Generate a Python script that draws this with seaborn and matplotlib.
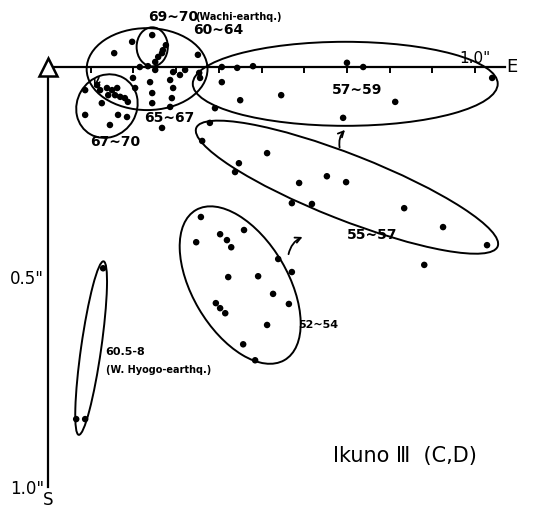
import numpy as np
import pandas as pd
import seaborn as sns
import matplotlib.pyplot as plt
from matplotlib.patches import Ellipse

# Displacement of the station per period, E (east) and S (south) in seconds of arc
e_69_70 = [0.244, 0.276, 0.269, 0.267, 0.258, 0.251]
s_69_70 = [-0.076, -0.052, -0.040, -0.033, -0.024, -0.012]

e_60_64 = [0.197, 0.155, 0.351, 0.215, 0.234, 0.251, 0.293, 0.309, 0.321, 0.354, 0.356]
s_60_64 = [-0.060, -0.033, -0.029, 0.000, -0.002, 0.007, 0.012, 0.019, 0.007, 0.014, 0.026]

e_65_67 = [0.286, 0.239, 0.199, 0.204, 0.244, 0.293, 0.244, 0.290, 0.286, 0.267]
s_65_67 = [0.031, 0.036, 0.026, 0.050, 0.062, 0.050, 0.086, 0.074, 0.095, 0.145]

e_67_70 = [0.087, 0.115, 0.122, 0.138, 0.150, 0.162, 0.141, 0.157, 0.169, 0.180,
           0.187, 0.126, 0.087, 0.164, 0.185, 0.145]
s_67_70 = [0.055, 0.043, 0.055, 0.050, 0.055, 0.050, 0.067, 0.067, 0.071, 0.074,
           0.083, 0.086, 0.114, 0.114, 0.119, 0.138]

e_57_59 = [0.407, 0.443, 0.480, 0.700, 0.738, 1.040, 0.546, 0.813, 0.691, 0.407, 0.450, 0.391]
s_57_59 = [0.000, 0.002, -0.002, -0.010, 0.000, 0.026, 0.067, 0.083, 0.121, 0.036, 0.079, 0.098]

e_55_57 = [0.379, 0.361, 0.513, 0.447, 0.438, 0.588, 0.653, 0.698, 0.571, 0.618,
           0.834, 0.925, 1.028, 0.881]
s_55_57 = [0.133, 0.176, 0.205, 0.229, 0.250, 0.276, 0.260, 0.274, 0.324, 0.326,
           0.336, 0.381, 0.424, 0.471]

e_52_54 = [0.358, 0.347, 0.403, 0.419, 0.429, 0.459, 0.539, 0.571, 0.422, 0.492,
           0.527, 0.564, 0.393, 0.403, 0.415, 0.513, 0.457, 0.485]
s_52_54 = [0.357, 0.417, 0.398, 0.412, 0.429, 0.388, 0.457, 0.488, 0.500, 0.498,
           0.540, 0.564, 0.562, 0.574, 0.586, 0.614, 0.660, 0.698]

e_605_8 = [0.129, 0.066, 0.087]
s_605_8 = [0.479, 0.838, 0.838]

x_ticks = [0.1, 0.2, 0.3, 0.4, 0.5, 0.6, 0.7, 0.8, 0.9, 1.0]
x_ticklabels = ['', '', '', '', '', '', '', '', '', '1.0"']
y_ticks = [0.1, 0.2, 0.3, 0.4, 0.5, 0.6, 0.7, 0.8, 0.9, 1.0]
y_ticklabels = ['', '', '', '', '0.5"', '', '', '', '', '1.0"']

groups = {
    "69~70": (e_69_70, s_69_70),
    "60~64": (e_60_64, s_60_64),
    "65~67": (e_65_67, s_65_67),
    "67~70": (e_67_70, s_67_70),
    "57~59": (e_57_59, s_57_59),
    "55~57": (e_55_57, s_55_57),
    "52~54": (e_52_54, s_52_54),
    "60.5-8": (e_605_8, s_605_8),
}
df = pd.concat([pd.DataFrame({"E": e, "S": s, "period": k}) for k, (e, s) in groups.items()],
               ignore_index=True)

sns.set_style("white")
plt.rcParams['font.family'] = ['DejaVu Sans']
plt.rcParams['text.color'] = 'black'
plt.rcParams['xtick.color'] = 'black'
plt.rcParams['ytick.color'] = 'black'

fig = plt.figure(figsize=(5.4, 5.09), dpi=100)
ax = fig.add_axes([0, 0, 1, 1])

sns.scatterplot(data=df, x="E", y="S", color="black", s=22, edgecolor="none",
                legend=False, ax=ax, zorder=3)

ax.set_xlim(-0.1124, 1.152)
ax.set_ylim(1.052, -0.1595)
ax.set_xlabel('')
ax.set_ylabel('')

# axes through the origin, E to the right, S downwards
for side in ['bottom', 'right']:
    ax.spines[side].set_visible(False)
ax.spines['top'].set_position(('data', 0))
ax.spines['top'].set_bounds(0, 1.07)
ax.spines['left'].set_position(('data', 0))
ax.spines['left'].set_bounds(0, 1.0)
for side in ['top', 'left']:
    ax.spines[side].set_linewidth(1.6)
    ax.spines[side].set_color('black')

ax.xaxis.tick_top()
ax.set_xticks(x_ticks, x_ticklabels)
ax.set_yticks(y_ticks, y_ticklabels)
ax.tick_params(axis='x', direction='in', length=4, width=1.4, pad=1, labelsize=11,
               colors='black')
ax.tick_params(axis='y', direction='in', length=4, width=1.4, pad=3, labelsize=12,
               colors='black')

ax.text(1.087, 0, 'E', fontsize=13, ha='center', va='center', color='black')
ax.text(0, 1.01, 'S', fontsize=12, ha='center', va='top', color='black')
ax.plot([0], [0], marker='^', ms=13, mfc='white', mec='black', mew=1.8, zorder=4, clip_on=False)

# hand-drawn outlines around each period
outlines = [
    ((0.244, -0.048), 0.073, 0.093, 0),
    ((0.232, 0.005), 0.283, 0.195, 0),
    ((0.138, 0.093), 0.140, 0.155, 30),
    ((0.696, 0.040), 0.714, 0.200, 0),
    ((0.700, 0.286), 0.760, 0.155, 21.8),
    ((0.450, 0.519), 0.413, 0.224, 60),
    ((0.101, 0.669), 0.417, 0.047, -82),
]
for c, w, h, a in outlines:
    ax.add_patch(Ellipse(c, w, h, angle=a, fill=False, lw=1.4, ec='black'))

kw = dict(fontsize=10, fontweight='bold', ha='left', va='center', color='black')
small = dict(fontsize=7, fontweight='bold', ha='left', va='center', color='black')
ax.text(0.234, -0.119, '69~70', **kw)
ax.text(0.345, -0.119, '(Wachi-earthq.)', **small)
ax.text(0.340, -0.088, '60~64', **kw)
ax.text(0.225, 0.121, '65~67', **kw)
ax.text(0.098, 0.179, '67~70', **kw)
ax.text(0.665, 0.055, '57~59', **kw)
ax.text(0.700, 0.400, '55~57', **kw)
ax.text(0.585, 0.614, '52~54', fontsize=8, fontweight='bold', ha='left', va='center', color='black')
ax.text(0.133, 0.679, '60.5-8', fontsize=8, fontweight='bold', ha='left', va='center', color='black')
ax.text(0.136, 0.721, '(W. Hyogo-earthq.)', **small)
ax.text(0.667, 0.926, 'Ikuno Ⅲ  (C,D)', fontsize=15, ha='left', va='center', color='black')

arrow = dict(arrowstyle='->', lw=1.3, color='black', connectionstyle='arc3,rad=-0.3')
ax.annotate('', xy=(0.700, 0.145), xytext=(0.684, 0.198), arrowprops=arrow)
ax.annotate('', xy=(0.602, 0.402), xytext=(0.562, 0.452), arrowprops=arrow)
ax.annotate('', xy=(0.105, 0.055), xytext=(0.122, 0.019),
            arrowprops=dict(arrowstyle='->', lw=1.2, color='black'))

plt.savefig('out.png', dpi=100)
